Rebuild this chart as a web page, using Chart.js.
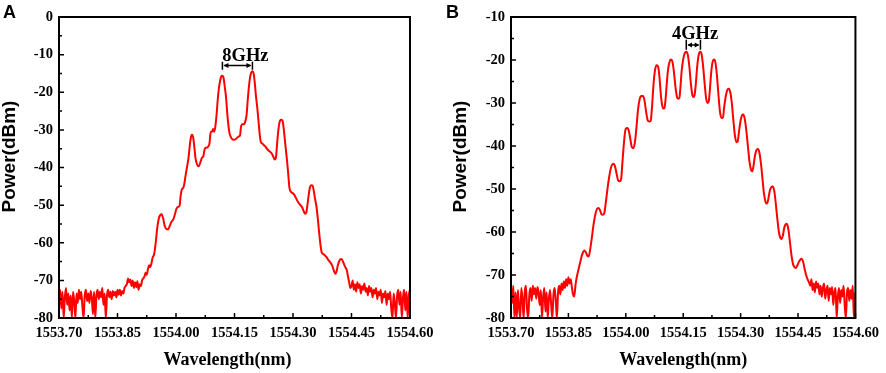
<!DOCTYPE html>
<html lang="en">
<head>
<meta charset="UTF-8">
<title>Optical spectra A / B</title>
<script src="https://cdn.jsdelivr.net/npm/chart.js"></script>
<style>
  body { margin: 0; background: #fff; width: 886px; height: 373px; overflow: hidden; position: relative; }
  .panel { position: absolute; top: 0; width: 443px; height: 373px; }
  .tag { position: absolute; top: 3px; font: bold 18px 'Liberation Sans', Arial, sans-serif; line-height: 18px; }
</style>
</head>
<body>
<div class="panel" style="left:0"><canvas id="chartA" width="443" height="373"></canvas></div>
<div class="panel" style="left:443px"><canvas id="chartB" width="443" height="373"></canvas></div>
<div class="tag" style="left:3px">A</div>
<div class="tag" style="left:446px">B</div>
<script>
// ---- data: [wavelength (nm), power (dBm)] ----
const xTickValues = [1553.70, 1553.85, 1554.00, 1554.15, 1554.30, 1554.45, 1554.60];
const yTicksA = [0, -10, -20, -30, -40, -50, -60, -70, -80];
const yTicksB = [-10, -20, -30, -40, -50, -60, -70, -80];

// panel A (8 GHz spacing)
const noiseLeftA = [
  [1553.700,-74.0],[1553.703,-72.5],[1553.706,-77.5],[1553.709,-73.0],[1553.712,-80.0],
  [1553.715,-74.5],[1553.718,-72.0],[1553.721,-76.5],[1553.724,-73.5],[1553.727,-78.0],
  [1553.730,-74.0],[1553.733,-80.0],[1553.736,-73.0],[1553.739,-75.5],[1553.742,-80.0],
  [1553.745,-73.5],[1553.748,-76.0],[1553.751,-72.5],[1553.754,-75.0],[1553.757,-73.0],
  [1553.760,-77.0],[1553.763,-80.0],[1553.766,-74.0],[1553.769,-72.5],[1553.772,-75.5],
  [1553.775,-73.5],[1553.778,-76.0],[1553.781,-72.8],[1553.784,-74.5],[1553.787,-79.0],
  [1553.790,-73.0],[1553.793,-80.0],[1553.796,-74.0],[1553.799,-72.5],[1553.802,-75.0],
  [1553.805,-73.0],[1553.808,-74.5],[1553.811,-72.0],[1553.814,-76.5],[1553.817,-73.5],
  [1553.820,-80.0],[1553.823,-74.0],[1553.826,-72.5],[1553.829,-74.5],[1553.832,-73.0],
  [1553.835,-75.0],[1553.838,-72.8],[1553.841,-74.0],[1553.844,-73.0],[1553.847,-74.5],
  [1553.850,-72.5],[1553.853,-73.8],[1553.856,-72.5],[1553.859,-74.0],[1553.862,-72.8],
  [1553.865,-73.5],[1553.868,-72.0],[1553.871,-71.5],[1553.874,-71.0]
];
const bandA = [
  [1553.877,-69.5],[1553.880,-70.5],[1553.883,-69.8],[1553.886,-71.5],[1553.889,-70.0],
  [1553.892,-72.0],[1553.895,-70.5],[1553.898,-71.8],[1553.901,-70.2],[1553.904,-72.5],
  [1553.907,-71.0],[1553.910,-71.5],[1553.913,-70.0],[1553.916,-69.5],[1553.919,-69.0],
  [1553.922,-68.0],[1553.925,-68.5],[1553.928,-67.0],[1553.931,-66.0],[1553.934,-66.5],
  [1553.937,-65.5],[1553.940,-64.0],[1553.944,-63.0],[1553.948,-60.0],[1553.952,-56.0],
  [1553.956,-53.5],[1553.960,-52.6],[1553.963,-52.4],[1553.967,-53.5],[1553.971,-55.5],
  [1553.975,-56.3],[1553.980,-56.4],[1553.984,-55.5],[1553.988,-54.5],[1553.993,-53.8],
  [1553.997,-52.5],[1554.001,-51.0],[1554.005,-50.5],[1554.009,-50.2],[1554.012,-47.5],
  [1554.015,-45.8],[1554.018,-45.5],[1554.021,-44.5],[1554.024,-42.5],[1554.028,-40.0],
  [1554.032,-37.5],[1554.036,-33.5],[1554.039,-31.6],[1554.041,-31.3],[1554.044,-32.0],
  [1554.047,-34.5],[1554.050,-37.5],[1554.054,-39.2],[1554.058,-39.7],[1554.062,-38.8],
  [1554.066,-37.5],[1554.070,-37.0],[1554.074,-35.0],[1554.078,-34.7],[1554.082,-34.5],
  [1554.086,-33.5],[1554.089,-30.5],[1554.092,-30.5],[1554.095,-29.8],[1554.098,-30.5],
  [1554.101,-29.0],[1554.104,-26.0],[1554.107,-22.0],[1554.110,-19.0],[1554.113,-17.0],
  [1554.116,-15.8],[1554.119,-15.6],[1554.122,-16.2],[1554.125,-18.5],[1554.128,-21.0],
  [1554.131,-25.0],[1554.134,-28.5],[1554.137,-30.8],[1554.141,-32.0],[1554.145,-32.5],
  [1554.150,-32.6],[1554.155,-32.3],[1554.160,-31.8],[1554.164,-31.5],[1554.167,-29.0],
  [1554.170,-28.5],[1554.174,-28.5],[1554.177,-28.0],[1554.181,-26.0],[1554.184,-22.0],
  [1554.187,-18.5],[1554.190,-16.0],[1554.193,-14.7],[1554.196,-14.4],[1554.199,-15.0],
  [1554.202,-17.5],[1554.205,-21.0],[1554.208,-23.7],[1554.211,-27.0],[1554.214,-30.5],
  [1554.217,-33.0],[1554.221,-33.6],[1554.225,-34.0],[1554.229,-34.4],[1554.233,-35.0],
  [1554.237,-35.5],[1554.241,-35.8],[1554.245,-36.2],[1554.249,-37.0],[1554.253,-37.9],
  [1554.256,-37.5],[1554.259,-34.0],[1554.262,-30.5],[1554.265,-28.2],[1554.269,-27.3],
  [1554.273,-27.5],[1554.276,-29.5],[1554.279,-32.5],[1554.282,-35.5],[1554.285,-38.5],
  [1554.288,-42.0],[1554.291,-45.5],[1554.295,-46.5],[1554.299,-46.8],[1554.303,-47.2],
  [1554.307,-48.0],[1554.311,-48.8],[1554.315,-49.5],[1554.319,-50.0],[1554.323,-50.5],
  [1554.327,-51.5],[1554.331,-52.3],[1554.334,-52.0],[1554.337,-50.0],[1554.340,-47.5],
  [1554.343,-45.5],[1554.347,-44.7],[1554.350,-44.8],[1554.353,-46.0],[1554.356,-48.0],
  [1554.360,-50.3],[1554.364,-54.0],[1554.368,-58.3],[1554.371,-61.0],[1554.374,-62.7],
  [1554.378,-63.0],[1554.382,-63.4],[1554.386,-63.8],[1554.390,-64.5],[1554.394,-65.0],
  [1554.398,-65.6],[1554.402,-66.5],[1554.405,-67.5],[1554.409,-68.3],[1554.412,-67.5],
  [1554.415,-66.0],[1554.419,-64.8],[1554.423,-64.3],[1554.426,-64.5],[1554.430,-65.5],
  [1554.434,-66.5],[1554.438,-67.3],[1554.441,-69.0],[1554.444,-70.5],[1554.447,-72.0]
];
const noiseRightA = [
  [1554.450,-71.5],[1554.453,-70.0],[1554.456,-72.5],[1554.459,-71.0],[1554.462,-73.0],
  [1554.465,-70.5],[1554.468,-72.0],[1554.471,-71.0],[1554.474,-73.5],[1554.477,-71.5],
  [1554.480,-72.5],[1554.483,-70.8],[1554.486,-73.0],[1554.489,-72.0],[1554.492,-74.0],
  [1554.495,-71.5],[1554.498,-73.0],[1554.501,-72.0],[1554.504,-74.5],[1554.507,-72.5],
  [1554.510,-73.5],[1554.513,-72.0],[1554.516,-75.0],[1554.519,-73.0],[1554.522,-74.0],
  [1554.525,-72.5],[1554.528,-76.0],[1554.531,-73.5],[1554.534,-74.5],[1554.537,-72.8],
  [1554.540,-76.5],[1554.543,-73.5],[1554.546,-75.0],[1554.549,-73.0],[1554.552,-77.5],
  [1554.555,-80.0],[1554.558,-73.5],[1554.561,-76.0],[1554.564,-80.0],[1554.567,-74.0],
  [1554.570,-72.5],[1554.573,-76.5],[1554.576,-73.0],[1554.579,-80.0],[1554.582,-74.5],
  [1554.585,-72.5],[1554.588,-78.0],[1554.591,-73.0],[1554.594,-80.0],[1554.597,-74.0],
  [1554.600,-72.5]
];

// panel B (4 GHz spacing)
const noiseLeftB = [
  [1553.700,-73.0],[1553.703,-76.5],[1553.706,-72.5],[1553.709,-80.0],[1553.712,-74.0],
  [1553.715,-80.0],[1553.718,-73.5],[1553.721,-77.5],[1553.724,-80.0],[1553.727,-73.0],
  [1553.730,-75.5],[1553.733,-80.0],[1553.736,-74.0],[1553.739,-72.5],[1553.742,-78.0],
  [1553.745,-80.0],[1553.748,-74.5],[1553.751,-73.0],[1553.754,-76.0],[1553.757,-72.5],
  [1553.760,-74.5],[1553.763,-73.0],[1553.766,-75.5],[1553.769,-72.8],[1553.772,-74.0],
  [1553.775,-77.0],[1553.778,-73.5],[1553.781,-80.0],[1553.784,-75.0],[1553.787,-73.0],
  [1553.790,-78.5],[1553.793,-74.0],[1553.796,-80.0],[1553.799,-75.5],[1553.802,-73.5],
  [1553.805,-77.0],[1553.808,-80.0],[1553.811,-74.5],[1553.814,-73.0],[1553.817,-76.0],
  [1553.820,-80.0],[1553.823,-74.0],[1553.826,-72.5],[1553.829,-74.5],[1553.832,-72.0],
  [1553.835,-73.5],[1553.838,-71.5],[1553.841,-73.0],[1553.844,-71.0],[1553.847,-72.5],
  [1553.850,-70.5],[1553.853,-72.0],[1553.856,-71.0],[1553.859,-72.8],[1553.862,-74.5],
  [1553.865,-75.0]
];
const bandB = [
  [1553.869,-72.0],[1553.873,-70.0],[1553.877,-68.5],[1553.881,-67.0],[1553.885,-65.5],
  [1553.889,-64.6],[1553.892,-64.3],[1553.896,-64.8],[1553.900,-65.6],[1553.903,-65.7],
  [1553.907,-64.0],[1553.911,-61.5],[1553.915,-58.7],[1553.919,-56.5],[1553.923,-55.0],
  [1553.928,-54.4],[1553.932,-54.8],[1553.936,-55.8],[1553.940,-56.0],[1553.944,-55.5],
  [1553.948,-53.0],[1553.952,-50.0],[1553.956,-47.5],[1553.960,-45.5],[1553.964,-44.4],
  [1553.968,-44.1],[1553.972,-44.8],[1553.976,-46.5],[1553.980,-48.0],[1553.984,-48.2],
  [1553.988,-47.5],[1553.991,-44.0],[1553.994,-40.5],[1553.997,-37.5],[1554.000,-36.0],
  [1554.004,-35.8],[1554.008,-36.5],[1554.012,-38.5],[1554.016,-40.3],[1554.020,-40.5],
  [1554.024,-39.0],[1554.028,-35.5],[1554.032,-31.5],[1554.036,-29.2],[1554.041,-28.4],
  [1554.045,-28.4],[1554.049,-29.5],[1554.053,-32.0],[1554.057,-34.0],[1554.061,-34.3],
  [1554.065,-34.2],[1554.068,-31.5],[1554.071,-27.5],[1554.074,-24.0],[1554.077,-22.0],
  [1554.081,-21.2],[1554.085,-21.8],[1554.088,-24.0],[1554.091,-27.5],[1554.094,-30.0],
  [1554.098,-31.3],[1554.101,-31.2],[1554.104,-29.0],[1554.107,-25.5],[1554.110,-22.5],
  [1554.114,-20.5],[1554.118,-19.9],[1554.122,-20.5],[1554.126,-23.0],[1554.130,-26.5],
  [1554.134,-28.7],[1554.137,-29.0],[1554.140,-28.8],[1554.143,-26.0],[1554.146,-22.5],
  [1554.150,-19.8],[1554.154,-18.4],[1554.158,-18.1],[1554.162,-18.8],[1554.166,-21.5],
  [1554.170,-25.5],[1554.174,-28.2],[1554.177,-28.6],[1554.180,-28.0],[1554.183,-25.5],
  [1554.186,-22.0],[1554.190,-19.0],[1554.194,-18.1],[1554.198,-18.6],[1554.202,-21.5],
  [1554.206,-25.5],[1554.210,-29.0],[1554.214,-30.0],[1554.217,-29.5],[1554.220,-26.5],
  [1554.223,-23.0],[1554.226,-20.8],[1554.230,-19.9],[1554.234,-20.5],[1554.238,-23.5],
  [1554.242,-28.0],[1554.246,-32.0],[1554.250,-33.5],[1554.254,-33.3],[1554.257,-31.0],
  [1554.261,-28.5],[1554.265,-27.0],[1554.269,-26.7],[1554.273,-27.5],[1554.277,-30.0],
  [1554.281,-34.0],[1554.285,-37.5],[1554.289,-39.1],[1554.292,-39.0],[1554.296,-36.5],
  [1554.300,-34.0],[1554.304,-32.8],[1554.307,-32.7],[1554.311,-33.8],[1554.315,-36.5],
  [1554.319,-40.0],[1554.323,-43.5],[1554.327,-45.5],[1554.330,-45.9],[1554.333,-45.0],
  [1554.337,-42.5],[1554.341,-41.0],[1554.345,-40.7],[1554.349,-41.5],[1554.353,-44.0],
  [1554.357,-47.5],[1554.361,-51.0],[1554.366,-53.2],[1554.369,-53.4],[1554.372,-52.5],
  [1554.376,-50.5],[1554.380,-49.6],[1554.384,-49.4],[1554.388,-50.5],[1554.392,-53.5],
  [1554.396,-57.0],[1554.400,-60.0],[1554.404,-61.4],[1554.407,-61.6],[1554.410,-61.0],
  [1554.414,-59.0],[1554.418,-58.2],[1554.421,-58.1],[1554.425,-59.5],[1554.429,-62.5],
  [1554.433,-65.5],[1554.437,-67.5],[1554.441,-68.2],[1554.444,-68.4],[1554.448,-67.8],
  [1554.452,-67.0],[1554.456,-66.4],[1554.459,-66.2],[1554.463,-66.8],[1554.467,-68.5],
  [1554.471,-70.0],[1554.475,-71.0],[1554.479,-71.8]
];
const noiseRightB = [
  [1554.482,-72.5],[1554.485,-71.0],[1554.488,-73.5],[1554.491,-72.0],[1554.494,-74.0],
  [1554.497,-71.5],[1554.500,-73.0],[1554.503,-72.0],[1554.506,-74.5],[1554.509,-72.5],
  [1554.512,-75.0],[1554.515,-73.0],[1554.518,-72.0],[1554.521,-75.5],[1554.524,-73.5],
  [1554.527,-72.5],[1554.530,-76.0],[1554.533,-73.0],[1554.536,-74.5],[1554.539,-72.8],
  [1554.542,-77.0],[1554.545,-74.0],[1554.548,-73.0],[1554.551,-80.0],[1554.554,-75.0],
  [1554.557,-73.0],[1554.560,-76.5],[1554.563,-73.5],[1554.566,-75.0],[1554.569,-72.5],
  [1554.572,-77.0],[1554.575,-80.0],[1554.578,-74.0],[1554.581,-73.0],[1554.584,-76.0],
  [1554.587,-73.5],[1554.590,-75.5],[1554.593,-72.5],[1554.596,-80.0],[1554.600,-74.0]
];

// spacing markers: peaks they join, bracket heights and label (data units)
const markA = { text: '8GHz', from: 1554.119, to: 1554.196, textX: 1554.178, textY: -11.6, top: -11.9, bottom: -14.0, arrowY: -12.9 };
const markB = { text: '4GHz', from: 1554.158, to: 1554.195, textX: 1554.181, textY: -15.0, top: -15.3, bottom: -17.6, arrowY: -16.5 };

const serif = "'Liberation Serif', 'Times New Roman', serif";
const sans = "'Liberation Sans', Arial, sans-serif";

// box, inward ticks, axis titles, spacing marker
const framePlugin = {
  id: 'frame',
  afterDraw(chart, args, o) {
    const { ctx, chartArea: a, scales: { x, y } } = chart;
    ctx.save();
    ctx.strokeStyle = '#000';
    ctx.lineWidth = 2;
    ctx.strokeRect(a.left, a.top, a.right - a.left, a.bottom - a.top);

    ctx.lineWidth = 1.5;
    ctx.beginPath();
    xTickValues.forEach((v, i) => {
      const px = x.getPixelForValue(v);
      ctx.moveTo(px, a.bottom); ctx.lineTo(px, a.bottom - 5);
      if (i < xTickValues.length - 1) {
        const m = x.getPixelForValue((v + xTickValues[i + 1]) / 2);
        ctx.moveTo(m, a.bottom); ctx.lineTo(m, a.bottom - 3);
      }
    });
    o.yTicks.forEach((v, i) => {
      const py = y.getPixelForValue(v);
      ctx.moveTo(a.left, py); ctx.lineTo(a.left + 5, py);
      if (i < o.yTicks.length - 1) {
        const m = y.getPixelForValue((v + o.yTicks[i + 1]) / 2);
        ctx.moveTo(a.left, m); ctx.lineTo(a.left + 3, m);
      }
    });
    ctx.stroke();

    // axis titles
    ctx.fillStyle = '#000';
    ctx.textAlign = 'center';
    ctx.textBaseline = 'middle';
    ctx.font = 'bold 18px ' + serif;
    ctx.fillText('Wavelength(nm)', (a.left + a.right) / 2 + o.xTitleShift, 360);
    ctx.save();
    ctx.translate(o.yTitleX, (a.top + a.bottom) / 2 - 11);
    ctx.rotate(-Math.PI / 2);
    ctx.font = 'bold 19px ' + sans;
    ctx.fillText('Power(dBm)', 0, 0);
    ctx.restore();

    // spacing marker
    const m = o.mark;
    const x1 = x.getPixelForValue(m.from), x2 = x.getPixelForValue(m.to);
    const yt = y.getPixelForValue(m.top), yb = y.getPixelForValue(m.bottom), ya = y.getPixelForValue(m.arrowY);
    ctx.lineWidth = 1.5;
    ctx.beginPath();
    ctx.moveTo(x1, yt); ctx.lineTo(x1, yb);
    ctx.moveTo(x2, yt); ctx.lineTo(x2, yb);
    ctx.moveTo(x1 + 2, ya); ctx.lineTo(x2 - 2, ya);
    ctx.stroke();
    const head = Math.min(5, (x2 - x1) / 3);
    ctx.beginPath();
    ctx.moveTo(x1 + 1, ya); ctx.lineTo(x1 + 1 + head, ya - 2.5); ctx.lineTo(x1 + 1 + head, ya + 2.5); ctx.closePath();
    ctx.moveTo(x2 - 1, ya); ctx.lineTo(x2 - 1 - head, ya - 2.5); ctx.lineTo(x2 - 1 - head, ya + 2.5); ctx.closePath();
    ctx.fill();
    ctx.font = 'bold 18.5px ' + serif;
    ctx.textBaseline = 'alphabetic';
    ctx.fillText(m.text, x.getPixelForValue(m.textX), y.getPixelForValue(m.textY));
    ctx.restore();
  }
};

function makeChart(id, parts, yMin, yMax, yTicks, mark, yAxisWidth, rightPad, yTitleX, xTitleShift) {
  const points = parts.flat().map(([w, p]) => ({ x: w, y: p }));
  const tickFont = { family: serif, weight: 'bold', size: 14.5 };
  return new Chart(document.getElementById(id), {
    type: 'line',
    data: {
      datasets: [{
        data: points,
        borderColor: '#ff0000',
        borderWidth: 2,
        pointRadius: 0,
        cubicInterpolationMode: 'monotone',
        fill: false
      }]
    },
    options: {
      responsive: false,
      animation: false,
      layout: { padding: { top: 17, right: rightPad, left: 0, bottom: 0 } },
      plugins: {
        legend: { display: false },
        tooltip: { enabled: false },
        frame: { yTicks, mark, yTitleX, xTitleShift }
      },
      scales: {
        x: {
          type: 'linear',
          min: 1553.7,
          max: 1554.6,
          afterBuildTicks: s => { s.ticks = xTickValues.map(v => ({ value: v })); },
          afterFit: s => { s.height = 55; },
          grid: { display: false, drawTicks: false },
          border: { display: false },
          ticks: { font: tickFont, color: '#000', padding: 7, maxRotation: 0, autoSkip: false,
                   callback: v => v.toFixed(2) }
        },
        y: {
          min: yMin,
          max: yMax,
          afterBuildTicks: s => { s.ticks = yTicks.map(v => ({ value: v })); },
          afterFit: s => { s.width = yAxisWidth; },
          grid: { display: false, drawTicks: false },
          border: { display: false },
          ticks: { font: tickFont, color: '#000', padding: 6 }
        }
      }
    },
    plugins: [framePlugin]
  });
}

makeChart('chartA', [noiseLeftA, bandA, noiseRightA], -80, 0, yTicksA, markA, 59, 33, 10, -7);
makeChart('chartB', [noiseLeftB, bandB, noiseRightB], -80, -10, yTicksB, markB, 68, 25, 17.5, 0);
</script>
</body>
</html>
